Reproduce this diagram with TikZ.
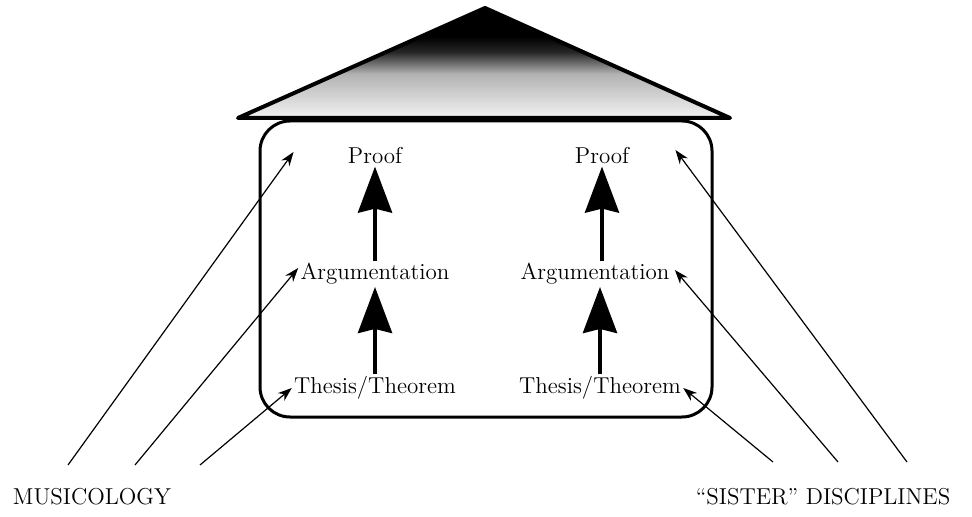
\documentclass[tikz,border=0pt]{standalone}
\usepackage{tikz}
\usetikzlibrary{arrows.meta,positioning,calc}
\pgfdeclareverticalshading{roofshade}{100bp}{color(0bp)=(gray!10); color(25bp)=(gray!10); color(33bp)=(gray!30); color(45bp)=(gray!60); color(55bp)=(black!85); color(62bp)=(black); color(100bp)=(black)}

\begin{document}
\begin{tikzpicture}[x=0.5pt,y=-0.5pt,
  lbl/.style={font=\fontsize{11.5}{14}\selectfont, inner sep=1pt},
  bigarrow/.style={-{Stealth[length=23pt,width=17pt,inset=2pt]}, line width=2pt},
  thinarrow/.style={-{Stealth[length=7pt,width=5pt]}, line width=0.6pt}]
  \useasboundingbox (0,0) rectangle (972,517);

  % house and roof
  \draw[line width=1.5pt, rounded corners=15pt] (260,121) rectangle (712,417);
  \draw[line width=2pt, line join=round, shading=roofshade] (238,118) -- (485,8) -- (730,118) -- cycle;

  \node[lbl] (lproof) at (375,156) {Proof};
  \node[lbl] (larg) at (375,274) {Argumentation};
  \node[lbl] (lthesis) at (375,388) {Thesis/Theorem};
  \node[lbl] (rproof) at (602,156) {Proof};
  \node[lbl] (rarg) at (595,274) {Argumentation};
  \node[lbl] (rthesis) at (600,388) {Thesis/Theorem};

  \draw[bigarrow] (lthesis) -- (larg);
  \draw[bigarrow] (larg) -- (lproof);
  \draw[bigarrow] (rthesis) -- (rthesis |- rarg.south);
  \draw[bigarrow] (rproof |- rarg.north) -- (rproof);

  % the two sides
  \node[lbl] (musicology) at (92,497) {MUSICOLOGY};
  \node[lbl] (sister) at (823,497) {``SISTER'' DISCIPLINES};
  \coordinate (m1) at (68,465);
  \coordinate (m2) at (135,465);
  \coordinate (m3) at (200,465);
  \coordinate (s1) at (773,462);
  \coordinate (s2) at (838,462);
  \coordinate (s3) at (907,462);

  \draw[thinarrow] (m1) -- ($(lproof.west)+(-52,-4)$);
  \draw[thinarrow] (m2) -- ($(larg.west)+(0,-6)$);
  \draw[thinarrow] (m3) -- (lthesis.west);
  \draw[thinarrow] (s1) -- (rthesis.east);
  \draw[thinarrow] (s2) -- ($(rarg.east)+(3,-4)$);
  \draw[thinarrow] (s3) -- ($(rproof.east)+(44,-6)$);
\end{tikzpicture}
\end{document}
